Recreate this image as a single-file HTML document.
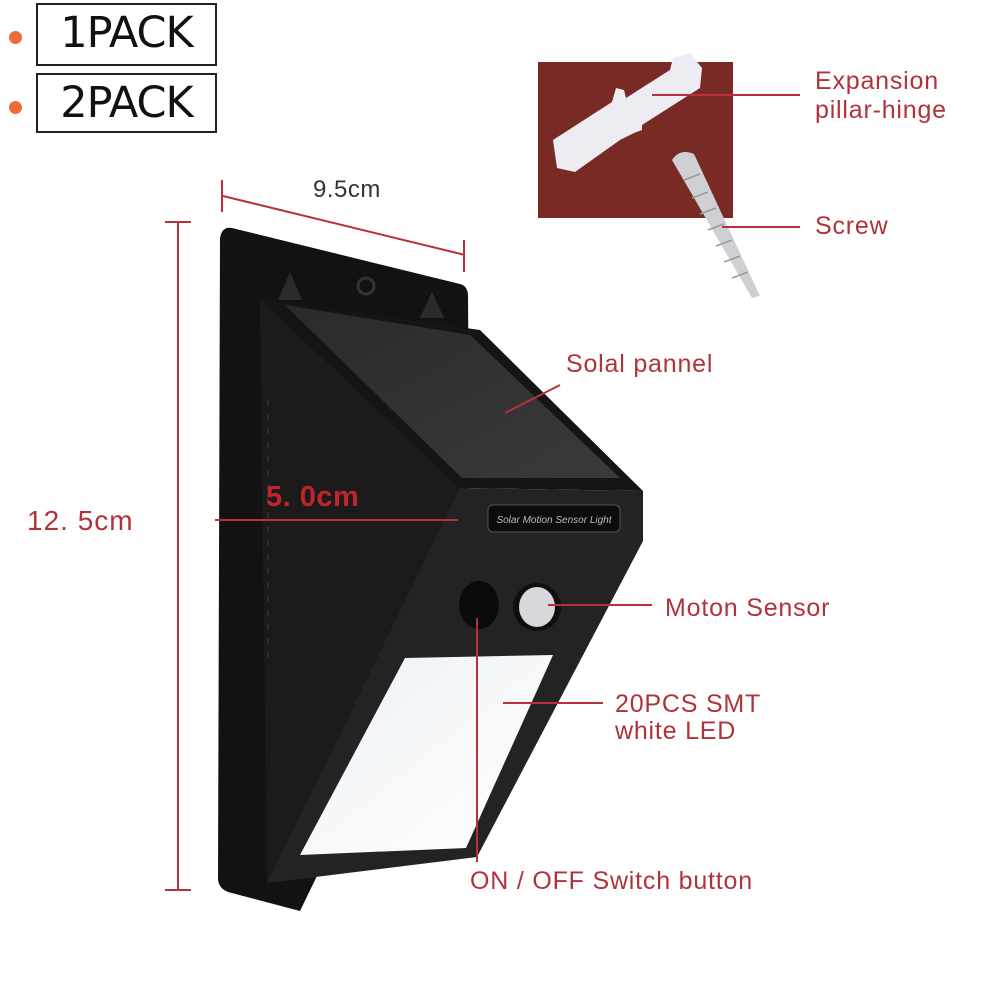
<!DOCTYPE html>
<html><head><meta charset="utf-8"><style>
html,body{margin:0;padding:0;background:#fff;}
body{width:1000px;height:1000px;position:relative;overflow:hidden;font-family:"Liberation Sans",sans-serif;}
.box{position:absolute;left:36px;width:177px;border:2px solid #222;font-family:"DejaVu Sans","Liberation Sans",sans-serif;font-size:43px;line-height:56px;text-align:center;color:#111;letter-spacing:-1px;}
.dot{position:absolute;width:13px;height:13px;border-radius:50%;background:#ee6b3a;left:9px;}
.lab{position:absolute;color:#b0333a;font-size:25px;line-height:28px;letter-spacing:0.8px;white-space:nowrap;}
</style></head><body>
<div class="dot" style="top:31px"></div>
<div class="dot" style="top:101px"></div>
<div class="box" style="top:3px;height:59px">1PACK</div>
<div class="box" style="top:73px;height:56px">2PACK</div>

<svg width="1000" height="1000" style="position:absolute;left:0;top:0">
 <defs>
  <linearGradient id="led" x1="0" y1="0" x2="1" y2="1">
   <stop offset="0" stop-color="#eef2f6"/><stop offset="1" stop-color="#ffffff"/>
  </linearGradient>
  <linearGradient id="sol" x1="0" y1="0" x2="1" y2="1">
   <stop offset="0" stop-color="#2a2a2c"/><stop offset="1" stop-color="#3a3a3d"/>
  </linearGradient>
 </defs>
 <path d="M232,228 L460,284 Q468,286 468,296 L470,560 L300,911 L228,892 Q218,888 218,878 L220,238 Q222,226 232,228 Z" fill="#121212"/>
 <path d="M278,300 L290,272 L302,300 Z" fill="#2b2b2b"/>
 <path d="M420,318 L432,292 L444,318 Z" fill="#2b2b2b"/>
 <circle cx="366" cy="286" r="8" fill="none" stroke="#333" stroke-width="3"/>
 <path d="M260,299 L460,488 L267,883 Z" fill="#1b1b1b"/>
 <line x1="268" y1="400" x2="268" y2="660" stroke="#2c2c2c" stroke-width="2" stroke-dasharray="6 8"/>
 <path d="M260,299 L480,330 L643,491 L460,488 Z" fill="#151515"/>
 <path d="M285,305 L470,335 L620,478 L462,478 Z" fill="url(#sol)"/>
 <path d="M460,488 L643,491 L643,541 L477,857 L267,883 Z" fill="#232325"/>
 <rect x="488" y="505" width="132" height="27" rx="5" fill="#0c0c0c" stroke="#555" stroke-width="1"/>
 <text x="554" y="523" font-size="10" fill="#bbb" text-anchor="middle" font-style="italic" font-family="Liberation Sans, sans-serif">Solar Motion Sensor Light</text>
 <ellipse cx="479" cy="605" rx="20" ry="24" fill="#0b0b0b"/>
 <ellipse cx="537" cy="607" rx="24" ry="24" fill="#0f0f0f"/>
 <ellipse cx="537" cy="607" rx="18" ry="20" fill="#d8d8dc"/>
 <path d="M405,658 L553,655 L466,848 L300,855 Z" fill="url(#led)"/>
 <g fill="#f4fbe0">
  <circle cx="430" cy="680" r="2"/><circle cx="470" cy="680" r="2"/><circle cx="510" cy="680" r="2"/>
  <circle cx="410" cy="720" r="2"/><circle cx="450" cy="720" r="2"/><circle cx="490" cy="720" r="2"/>
  <circle cx="385" cy="760" r="2"/><circle cx="425" cy="760" r="2"/><circle cx="465" cy="760" r="2"/>
  <circle cx="360" cy="800" r="2"/><circle cx="400" cy="800" r="2"/><circle cx="440" cy="800" r="2"/>
 </g>

 <rect x="538" y="62" width="195" height="156" fill="#7a2a24"/>
 <path d="M553,140 L612,102 L616,88 L624,90 L626,98 L670,70 L673,58 L690,53 L702,68 L700,88 L642,125 L642,130 L634,133 L620,140 L575,172 L557,168 Z" fill="#ececf2"/>
 <path d="M672,160 Q680,148 694,154 L760,296 L752,298 Z" fill="#cfd0d3"/>
 <g stroke="#9a9a9d" stroke-width="1.5">
  <line x1="684" y1="180" x2="700" y2="174"/><line x1="692" y1="198" x2="708" y2="192"/><line x1="700" y1="214" x2="716" y2="208"/><line x1="708" y1="230" x2="724" y2="224"/><line x1="716" y1="246" x2="732" y2="240"/><line x1="724" y1="262" x2="740" y2="256"/><line x1="732" y1="278" x2="748" y2="272"/>
 </g>

 <g stroke="#b8313a" stroke-width="2" fill="none">
  <line x1="178" y1="222" x2="178" y2="890"/>
  <line x1="165" y1="222" x2="191" y2="222"/>
  <line x1="165" y1="890" x2="191" y2="890"/>
  <line x1="223" y1="196" x2="465" y2="255"/>
  <line x1="222" y1="180" x2="222" y2="212"/>
  <line x1="464" y1="240" x2="464" y2="272"/>
  <line x1="215" y1="520" x2="458" y2="520"/>
  <line x1="505" y1="413" x2="560" y2="385"/>
  <line x1="652" y1="95" x2="800" y2="95"/>
  <line x1="722" y1="227" x2="800" y2="227"/>
  <line x1="548" y1="605" x2="652" y2="605"/>
  <line x1="503" y1="703" x2="603" y2="703"/>
  <line x1="477" y1="618" x2="477" y2="862"/>
 </g>
</svg>

<div class="lab" style="left:313px;top:176px;font-size:24px;letter-spacing:0.5px;color:#333">9.5cm</div>
<div class="lab" style="left:27px;top:507px;font-size:28px;letter-spacing:1px">12. 5cm</div>
<div class="lab" style="left:266px;top:483px;font-size:29px;letter-spacing:0.5px;font-weight:bold;color:#c0242c">5. 0cm</div>
<div class="lab" style="left:566px;top:350px">Solal pannel</div>
<div class="lab" style="left:815px;top:67px">Expansion</div>
<div class="lab" style="left:815px;top:96px">pillar-hinge</div>
<div class="lab" style="left:815px;top:212px">Screw</div>
<div class="lab" style="left:665px;top:594px">Moton Sensor</div>
<div class="lab" style="left:615px;top:690px">20PCS SMT</div>
<div class="lab" style="left:615px;top:717px">white LED</div>
<div class="lab" style="left:470px;top:867px">ON / OFF Switch button</div>
</body></html>
